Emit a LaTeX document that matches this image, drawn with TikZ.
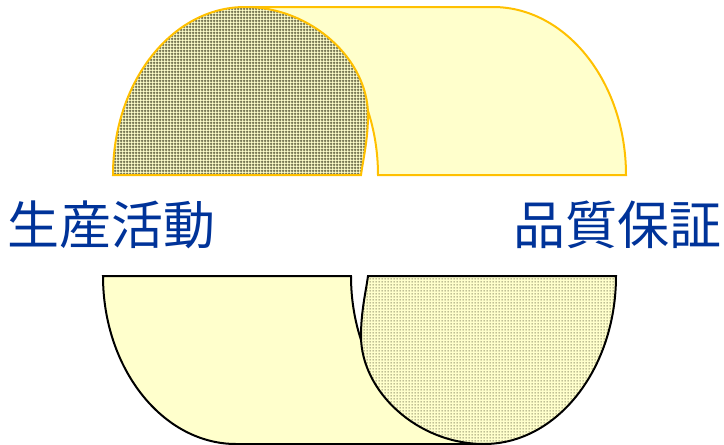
\documentclass[tikz,border=0pt]{standalone}
\usepackage{fontspec}
\newfontfamily\jpfont{Noto Sans CJK JP}
\usetikzlibrary{patterns}
\definecolor{bandfill}{RGB}{255,255,204}
\definecolor{bandgold}{RGB}{255,192,0}
\definecolor{capgrid}{RGB}{105,105,72}
\definecolor{labelblue}{RGB}{0,51,153}
% fine textures for the end caps
\pgfdeclarepatternformonly{finegrid}{\pgfpointorigin}{\pgfqpoint{1.5pt}{1.5pt}}{\pgfqpoint{1.5pt}{1.5pt}}{%
  \pgfsetlinewidth{0.55pt}%
  \pgfpathmoveto{\pgfqpoint{0pt}{0.75pt}}\pgfpathlineto{\pgfqpoint{1.5pt}{0.75pt}}%
  \pgfpathmoveto{\pgfqpoint{0.75pt}{0pt}}\pgfpathlineto{\pgfqpoint{0.75pt}{1.5pt}}%
  \pgfusepath{stroke}}
\pgfdeclarepatternformonly{finedots}{\pgfpointorigin}{\pgfqpoint{1.5pt}{1.5pt}}{\pgfqpoint{1.5pt}{1.5pt}}{%
  \pgfpathrectangle{\pgfqpoint{0.45pt}{0.45pt}}{\pgfqpoint{0.6pt}{0.6pt}}%
  \pgfusepath{fill}}
\tikzset{
  bandtop/.style={draw=bandgold, line width=1pt, fill=bandfill},
  captop/.style={draw=bandgold, line width=1pt, preaction={fill=bandfill},
    pattern=finegrid, pattern color=capgrid},
  bandbot/.style={draw=black, line width=1pt, fill=bandfill},
  capbot/.style={draw=black, line width=1pt, preaction={fill=bandfill},
    pattern=finedots, pattern color=capgrid},
  lbl/.style={font=\jpfont\fontsize{26}{30}\selectfont, text=labelblue, inner sep=0pt},
}
\begin{document}
\begin{tikzpicture}[x=0.5pt, y=-0.5pt]
  \useasboundingbox (0,0) rectangle (724,445);
  % upper arch
  \draw[bandtop] (378,175) .. controls (378,82) and (318,7) .. (245,7) -- (493,7)
    .. controls (566,7) and (626,82) .. (626,175) -- cycle;
  \draw[captop] (113,175) .. controls (113,82) and (172,7) .. (245,7)
    .. controls (312,7) and (368,60) .. (368,115)
    .. controls (368,140) and (363,160) .. (361,175) -- cycle;
  % lower arch
  \draw[bandbot] (351,276) .. controls (351,369) and (411,444) .. (484,444) -- (236,444)
    .. controls (163,444) and (103,369) .. (103,276) -- cycle;
  \draw[capbot] (616,276) .. controls (616,369) and (557,444) .. (484,444)
    .. controls (417,444) and (361,391) .. (361,336)
    .. controls (361,311) and (366,291) .. (368,276) -- cycle;
  % labels
  \node[lbl] (prod) at (112,225) {生産活動};
  \node[lbl] (qa) at (617,225) {品質保証};
\end{tikzpicture}
\end{document}
